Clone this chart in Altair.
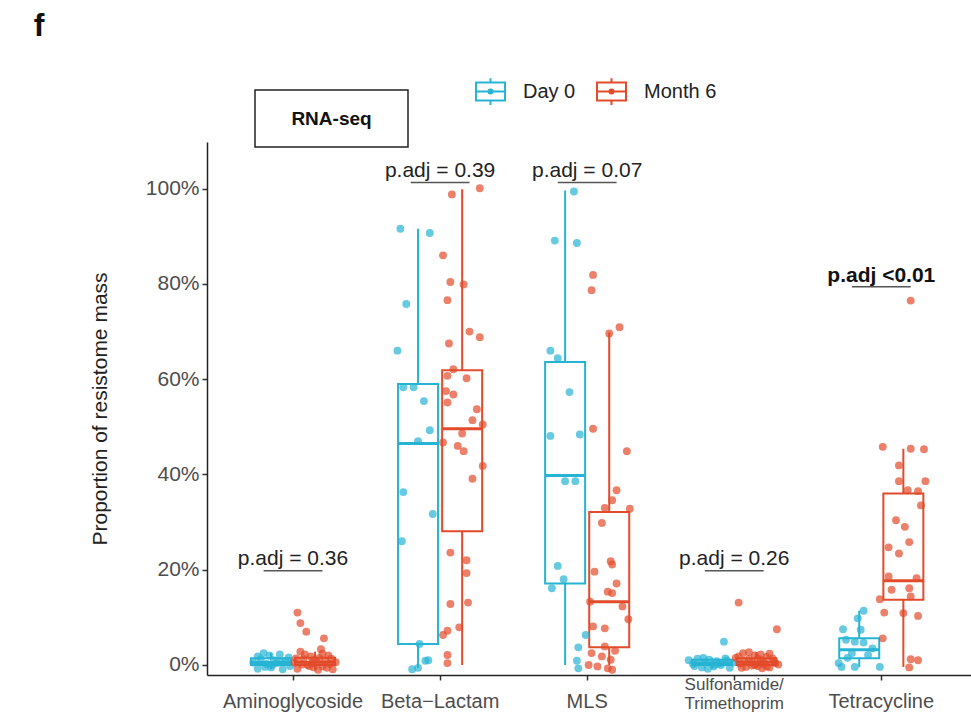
import json
import altair as alt
import pandas as pd

# ---------------- data ----------------
categories = ["Aminoglycoside", "Beta\u2212Lactam", "MLS", "Sulfonamide/Trimethoprim", "Tetracycline"]
label_lines = [["Aminoglycoside"], ["Beta\u2212Lactam"], ["MLS"], ["Sulfonamide/", "Trimethoprim"], ["Tetracycline"]]
groups = ["Day 0", "Month 6"]
colors = ["#27B4D4", "#E24B2B"]

# box statistics (percent), one value per category
d0_lo = [-0.9, -0.6, 0.0, -0.8, -0.4]
d0_q1 = [0.0, 4.4, 17.1, 0.0, 1.4]
d0_med = [0.5, 46.5, 39.8, 0.4, 3.2]
d0_q3 = [1.4, 59.0, 63.6, 1.1, 5.6]
d0_hi = [2.5, 91.6, 99.6, 1.5, 11.4]

m6_lo = [-1.0, 0.0, 0.0, -0.7, -0.4]
m6_q1 = [0.0, 28.1, 3.7, 0.0, 13.7]
m6_med = [0.6, 49.6, 13.3, 0.6, 17.7]
m6_q3 = [1.5, 61.9, 32.1, 1.4, 36.0]
m6_hi = [2.8, 99.9, 69.8, 2.7, 45.4]

# individual samples: jitter (category units) and value (percent)
amino_d0_jit = [-0.27, -0.24, -0.22, -0.20, -0.18, -0.16, -0.15, -0.13, -0.11, -0.09, -0.07, -0.05, -0.03, -0.02, -0.24, -0.14, -0.08, -0.19]
amino_d0_val = [0.5, -0.8, 1.2, 2.5, 0.2, 2.0, -0.5, 1.0, 0.4, 2.2, -0.9, 0.8, 1.6, -0.2, 1.8, 0.0, 0.6, -0.4]
amino_m6_jit = [0.03, 0.05, 0.09, 0.21, 0.19, 0.05, 0.24, 0.01, 0.03, 0.07, 0.10, 0.12, 0.14, 0.16, 0.18, 0.20, 0.22, 0.25, 0.27, 0.08, 0.13, 0.17, 0.26, 0.11, 0.20, 0.06, 0.14, 0.23, 0.29, 0.02]
amino_m6_val = [11.0, 8.8, 7.0, 5.6, 3.3, 2.8, 2.0, 0.5, -0.8, 1.2, 0.0, 1.8, -0.5, 0.7, 1.5, -0.3, 0.9, 0.2, -0.9, 2.2, 0.4, -1.0, 1.3, -0.2, 2.4, 0.1, 1.0, -0.6, 0.6, 1.4]

beta_d0_jit = [-0.27, -0.07, -0.23, -0.29, -0.25, -0.18, -0.11, -0.07, -0.15, -0.25, -0.05, -0.26, -0.14, -0.08, -0.10, -0.19, -0.15]
beta_d0_val = [91.6, 90.7, 75.8, 66.0, 58.3, 58.3, 55.4, 49.3, 47.0, 36.3, 31.7, 26.0, 4.4, 1.0, 0.9, -0.9, -0.6]
beta_m6_jit = [0.27, 0.08, 0.02, 0.07, 0.16, 0.05, 0.20, 0.27, 0.06, 0.09, 0.18, 0.05, 0.04, 0.09, 0.05, 0.25, 0.22, 0.29, 0.15, 0.02, 0.12, 0.16, 0.29, 0.22, 0.07, 0.18, 0.18, 0.07, 0.19, 0.13, 0.05, 0.02, 0.05, 0.05]
beta_m6_val = [100.1, 98.8, 86.0, 80.4, 79.9, 76.6, 70.0, 68.8, 67.5, 62.1, 60.2, 60.7, 57.5, 56.8, 55.1, 53.7, 51.4, 50.5, 48.6, 46.7, 46.0, 44.9, 41.8, 39.1, 23.6, 22.0, 19.3, 12.8, 13.1, 7.9, 7.2, 6.3, 2.1, 0.4]

mls_d0_jit = [-0.09, -0.22, -0.07, -0.25, -0.20, -0.12, -0.25, -0.05, -0.15, -0.08, -0.20, -0.16, -0.24, -0.01, -0.06, -0.07, -0.06]
mls_d0_val = [99.4, 89.1, 88.6, 66.0, 64.4, 57.3, 48.1, 48.4, 38.6, 38.6, 20.8, 18.0, 16.1, 6.3, 3.7, 0.9, -0.7]
mls_m6_jit = [0.04, 0.03, 0.15, 0.22, 0.04, 0.27, 0.20, 0.17, 0.29, 0.12, 0.10, 0.16, 0.17, 0.05, 0.20, 0.14, 0.17, 0.02, 0.24, 0.28, 0.04, 0.12, 0.12, 0.19, 0.03, 0.10, 0.16, 0.01, 0.07, 0.14, 0.17]
mls_m6_val = [81.9, 78.7, 69.6, 70.9, 49.6, 44.9, 36.7, 34.6, 32.8, 33.0, 29.8, 21.8, 21.1, 19.6, 17.1, 15.4, 15.1, 13.3, 12.3, 9.6, 8.1, 7.7, 3.9, 3.0, 2.5, 1.8, 1.1, 0.0, -0.3, -0.7, -1.0]

sulf_d0_jit = [-0.31, -0.28, -0.25, -0.22, -0.20, -0.17, -0.14, -0.12, -0.09, -0.06, -0.03, -0.01, -0.07, -0.18, -0.10, -0.27, -0.21, -0.13, -0.05]
sulf_d0_val = [1.0, 0.2, 1.3, -0.5, 0.6, 1.1, -0.3, 0.8, 0.0, 1.4, -0.6, 0.5, 4.9, -0.8, 0.3, -0.2, 1.5, 0.1, 0.9]
sulf_m6_jit = [0.03, 0.29, 0.01, 0.04, 0.06, 0.08, 0.10, 0.12, 0.14, 0.16, 0.18, 0.20, 0.22, 0.24, 0.27, 0.30, 0.05, 0.10, 0.14, 0.18, 0.22, 0.26, 0.07, 0.12, 0.16, 0.20, 0.24, 0.28, 0.03, 0.19]
sulf_m6_val = [13.1, 7.5, 1.5, 0.3, 2.5, -0.4, 1.2, 0.6, 2.0, -0.2, 1.0, 0.2, 1.7, -0.5, 0.8, 0.1, -0.6, 2.7, 0.0, 2.2, -0.3, 1.4, 0.9, -0.1, 1.3, 0.5, 2.4, 0.4, 1.8, -0.7]

tetra_d0_jit = [-0.12, -0.16, -0.26, -0.14, -0.24, -0.18, -0.12, -0.20, -0.09, -0.27, -0.18, -0.01, -0.29, -0.06, -0.23]
tetra_d0_val = [11.4, 9.8, 7.5, 7.4, 5.3, 4.9, 4.7, 2.5, 2.1, -0.4, -0.4, -0.4, 0.4, 3.5, 1.5]
tetra_m6_jit = [0.20, 0.01, 0.20, 0.29, 0.12, 0.12, 0.30, 0.18, 0.25, 0.27, 0.10, 0.16, 0.19, 0.05, 0.12, 0.05, 0.24, 0.07, 0.19, 0.20, -0.01, 0.02, 0.15, 0.25, 0.01, 0.20, 0.25, 0.19]
tetra_m6_val = [76.5, 45.8, 45.4, 45.3, 41.9, 38.6, 38.6, 36.7, 36.5, 33.5, 30.4, 29.0, 25.8, 24.7, 23.4, 18.6, 18.2, 15.8, 16.1, 14.4, 13.8, 11.0, 10.9, 10.3, 5.6, 1.2, 1.0, -0.5]

p_labels = ["p.adj = 0.36", "p.adj = 0.39", "p.adj = 0.07", "p.adj = 0.26", "p.adj <0.01"]
p_bold = [False, False, False, False, True]
p_text_y = [21.0, 102.4, 102.4, 21.0, 80.5]
p_bracket_y = [19.8, 101.3, 101.3, 19.8, 79.4]

# ---------------- tables ----------------
box_rows = []
for g, (lo, q1, med, q3, hi) in zip(groups, [(d0_lo, d0_q1, d0_med, d0_q3, d0_hi),
                                             (m6_lo, m6_q1, m6_med, m6_q3, m6_hi)]):
    for i, c in enumerate(categories):
        box_rows.append(dict(ci=i, category=c, group=g, lo=lo[i], q1=q1[i],
                             med=med[i], q3=q3[i], hi=hi[i]))
box_df = pd.DataFrame(box_rows)

pt_sets = [
    (0, "Day 0", amino_d0_jit, amino_d0_val), (0, "Month 6", amino_m6_jit, amino_m6_val),
    (1, "Day 0", beta_d0_jit, beta_d0_val), (1, "Month 6", beta_m6_jit, beta_m6_val),
    (2, "Day 0", mls_d0_jit, mls_d0_val), (2, "Month 6", mls_m6_jit, mls_m6_val),
    (3, "Day 0", sulf_d0_jit, sulf_d0_val), (3, "Month 6", sulf_m6_jit, sulf_m6_val),
    (4, "Day 0", tetra_d0_jit, tetra_d0_val), (4, "Month 6", tetra_m6_jit, tetra_m6_val),
]
pt_rows = []
for ci, g, jits, vals in pt_sets:
    for j, v in zip(jits, vals):
        pt_rows.append(dict(ci=ci, group=g, jit=j, value=v))
pt_df = pd.DataFrame(pt_rows)

p_df = pd.DataFrame(dict(ci=list(range(len(categories))), label=p_labels, bold=p_bold,
                         ty=p_text_y, by=p_bracket_y))

lab_rows = []
for i, lines in enumerate(label_lines):
    for k, t in enumerate(lines):
        lab_rows.append(dict(ci=i, text=t, line=k, nlines=len(lines)))
lab_df = pd.DataFrame(lab_rows)

# ---------------- scales / axes ----------------
FONT = "Liberation Sans"
xscale = alt.Scale(domain=[-0.585, 4.61], nice=False, zero=False)
yscale = alt.Scale(domain=[-2.1, 109.8], nice=False, zero=False)
cscale = alt.Scale(domain=groups, range=colors)

x_axis = alt.Axis(values=[0, 1, 2, 3, 4], labels=False,
                  title="", grid=False, tickSize=5, tickWidth=1.5, tickColor="#333",
                  domainColor="#222", domainWidth=1.5)
y_axis = alt.Axis(values=[0, 20, 40, 60, 80, 100], labelExpr="datum.value + '%'",
                  title="Proportion of resistome mass", grid=False, tickSize=5, tickWidth=1.5,
                  tickColor="#333", domainColor="#222", domainWidth=1.5, labelPadding=3,
                  labelFontSize=21, labelFont=FONT, labelColor="#4D4D4D",
                  titleFontSize=21, titleFont=FONT, titleFontWeight="normal", titleColor="#222",
                  titlePadding=35)


def X(field):
    return alt.X(field, scale=xscale, axis=x_axis)


def Y(field):
    return alt.Y(field, scale=yscale, axis=y_axis)


dodge = "(datum.group == 'Day 0' ? -0.15 : 0.15)"
half = 0.136

base_box = alt.Chart(box_df).transform_calculate(
    xc="datum.ci + " + dodge,
    x1="datum.ci + " + dodge + " - " + str(half),
    x2="datum.ci + " + dodge + " + " + str(half),
)

legend_path = ("M-1,-0.62H1V0.62H-1Z M-1,0H1 M0,-0.62V-0.92 M0,0.62V0.92 "
               "M0.14,0A0.14,0.14 0 1 1 -0.14,0A0.14,0.14 0 1 1 0.14,0")
legend = alt.Legend(orient="none", legendX=268, legendY=-66, direction="horizontal",
                    symbolType=legend_path, symbolSize=841, symbolStrokeWidth=2,
                    symbolFillColor="white", symbolOpacity=1, labelFontSize=20, labelFont=FONT,
                    labelColor="#222", labelOffset=17, columnPadding=17, padding=0)

whisker = base_box.mark_rule(strokeWidth=2).encode(
    x=X("xc:Q"), y=Y("lo:Q"), y2="hi:Q",
    color=alt.Color("group:N", scale=cscale, title="", legend=legend),
)

boxes = base_box.mark_rect(fill="white", strokeWidth=2).encode(
    x=X("x1:Q"), x2="x2:Q", y=Y("q1:Q"), y2="q3:Q",
    stroke=alt.Stroke("group:N", scale=cscale, legend=None),
)

medians = base_box.mark_rule(strokeWidth=3).encode(
    x=X("x1:Q"), x2="x2:Q", y=Y("med:Q"),
    color=alt.Color("group:N", scale=cscale, legend=None),
)

points = alt.Chart(pt_df).transform_calculate(
    xp="datum.ci + datum.jit"
).mark_circle(size=62, opacity=0.7).encode(
    x=X("xp:Q"), y=Y("value:Q"),
    color=alt.Color("group:N", scale=cscale, legend=None),
)

base_p = alt.Chart(p_df).transform_calculate(bx1="datum.ci - 0.2", bx2="datum.ci + 0.2")
brackets = base_p.mark_rule(color="#555", strokeWidth=1.5).encode(
    x=X("bx1:Q"), x2="bx2:Q", y=Y("by:Q"),
)
p_norm = base_p.transform_filter("!datum.bold").mark_text(
    fontSize=21, font=FONT, color="#222", baseline="alphabetic", align="center"
).encode(x=X("ci:Q"), y=Y("ty:Q"), text="label:N")
p_bold_t = base_p.transform_filter("datum.bold").mark_text(
    fontSize=21, font=FONT, color="#111", fontWeight="bold", baseline="alphabetic", align="center"
).encode(x=X("ci:Q"), y=Y("ty:Q"), text="label:N")

# category labels under the axis (one layer per line position)
base_lab = alt.Chart(lab_df)
lab_single = base_lab.transform_filter("datum.nlines == 1").mark_text(
    fontSize=20, font=FONT, color="#4D4D4D", baseline="middle", align="center"
).encode(x=X("ci:Q"), y=alt.value(560), text="text:N")
lab_first = base_lab.transform_filter("datum.nlines == 2 && datum.line == 0").mark_text(
    fontSize=17, font=FONT, color="#4D4D4D", baseline="middle", align="center"
).encode(x=X("ci:Q"), y=alt.value(543), text="text:N")
lab_second = base_lab.transform_filter("datum.nlines == 2 && datum.line == 1").mark_text(
    fontSize=17, font=FONT, color="#4D4D4D", baseline="middle", align="center"
).encode(x=X("ci:Q"), y=alt.value(562), text="text:N")

deco = pd.DataFrame(dict(t=["RNA-seq"]))
tag_box = alt.Chart(deco).mark_rect(fill="white", stroke="#222", strokeWidth=1.5).encode(
    x=alt.value(48), x2=alt.value(201), y=alt.value(-52), y2=alt.value(5)
)
tag_text = alt.Chart(deco).mark_text(fontSize=19, font=FONT, fontWeight="bold", color="#111",
                                     baseline="middle", align="center").encode(
    x=alt.value(124.5), y=alt.value(-23), text="t:N"
)
panel = alt.Chart(pd.DataFrame(dict(t=["f"]))).mark_text(
    fontSize=32, font=FONT, fontWeight="bold", color="#111", baseline="alphabetic", align="center"
).encode(x=alt.value(-168), y=alt.value(-106), text="t:N")

chart = alt.layer(whisker, boxes, medians, points, brackets, p_norm, p_bold_t,
                  lab_single, lab_first, lab_second,
                  tag_box, tag_text, panel).resolve_scale(
    color="independent", stroke="independent"
).properties(
    width=764, height=533,
    padding={"left": 207, "top": 142, "right": 0, "bottom": 39},
    autosize=alt.AutoSizeParams(type="none"),
    background="white",
).configure_view(stroke=None)

chart.save("out.html", embed_options={"renderer": "svg", "actions": False})
